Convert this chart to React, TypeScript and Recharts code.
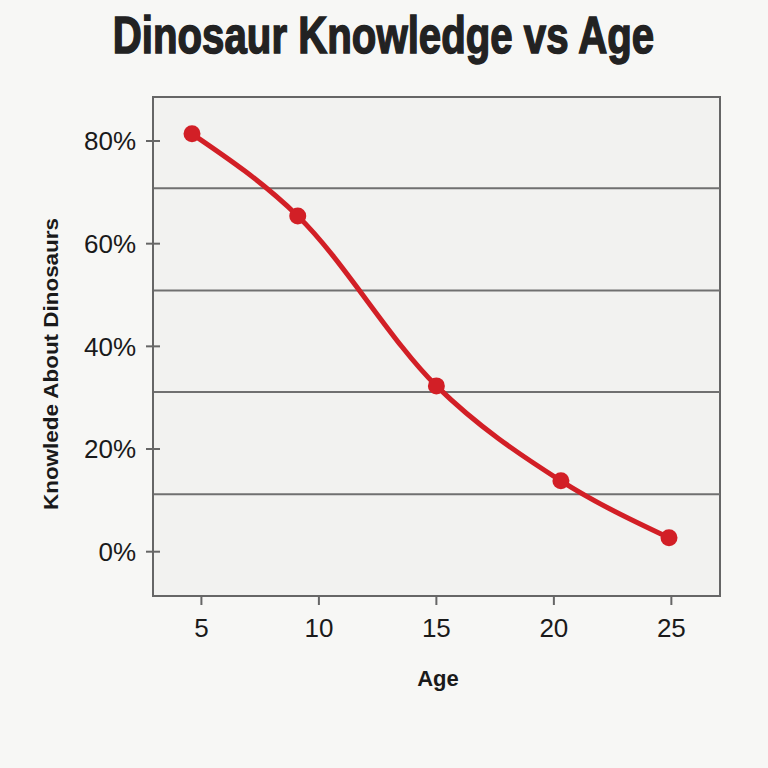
import React from 'react';
import {
  LineChart,
  Line,
  XAxis,
  YAxis,
  CartesianGrid,
  ReferenceLine,
  ReferenceArea,
} from 'recharts';

// values
const ages = [4.6, 9.1, 15, 20.3, 24.9];
const knowledge = [81.4, 65.4, 32.3, 13.8, 2.7];
const ageTicks = [5, 10, 15, 20, 25];
const pctTicks = [0, 20, 40, 60, 80];
const gridLevels = [70.8, 50.9, 31.1, 11.2];

const xDomain = [2.94, 27.07];
const yDomain = [-8.63, 88.57];

const FONT = '"Liberation Sans", Arial, sans-serif';
const RED = '#d21f26';
const FRAME = '#666';

const data = ages.map((age, i) => ({ age, value: knowledge[i] }));

// y tick: the little tick mark crosses the axis line on both sides
const Y_TICK_SIZE = 7;
const Y_TICK_MARGIN = 10;
const YTick = (props: any) => {
  const { x, y, payload } = props;
  const axisX = x + Y_TICK_MARGIN + Y_TICK_SIZE;
  return (
    <g>
      <line x1={axisX - 7} x2={axisX + 7} y1={y} y2={y} stroke={FRAME} strokeWidth={2} />
      <text
        x={x}
        y={y}
        dy="0.355em"
        textAnchor="end"
        fontSize={26}
        fontFamily={FONT}
        fill="#1a1a1a"
      >
        {payload.value}%
      </text>
    </g>
  );
};

export default function App() {
  return (
    <div
      style={{
        position: 'absolute',
        left: 0,
        top: 0,
        width: 768,
        height: 768,
        background: '#f7f7f5',
      }}
    >
      <LineChart
        width={768}
        height={768}
        data={data}
        margin={{ top: 97, right: 48, bottom: 122, left: 63 }}
      >
        <CartesianGrid fill="#f2f2f0" horizontal={false} vertical={false} />
        {gridLevels.map((g) => (
          <ReferenceLine key={g} y={g} stroke="#707070" strokeWidth={2} />
        ))}
        <ReferenceArea
          x1={xDomain[0]}
          x2={xDomain[1]}
          y1={yDomain[0]}
          y2={yDomain[1]}
          fill="none"
          stroke={FRAME}
          strokeWidth={2}
        />
        <XAxis
          dataKey="age"
          type="number"
          domain={xDomain}
          ticks={ageTicks}
          allowDataOverflow
          height={50}
          tickSize={9}
          tickMargin={14}
          axisLine={{ stroke: FRAME, strokeWidth: 2 }}
          tickLine={{ stroke: FRAME, strokeWidth: 2 }}
          tick={{ fontSize: 26, fontFamily: FONT, fill: '#1a1a1a' }}
        />
        <YAxis
          type="number"
          domain={yDomain}
          ticks={pctTicks}
          allowDataOverflow
          width={90}
          tickSize={Y_TICK_SIZE}
          tickMargin={Y_TICK_MARGIN}
          axisLine={{ stroke: FRAME, strokeWidth: 2 }}
          tickLine={false}
          tick={<YTick />}
        />
        <Line
          type="monotone"
          dataKey="value"
          stroke={RED}
          strokeWidth={5}
          dot={{ r: 8.5, fill: RED, stroke: 'none' }}
          activeDot={false}
          isAnimationActive={false}
        />
      </LineChart>
      <svg
        width={768}
        height={768}
        style={{ position: 'absolute', left: 0, top: 0, pointerEvents: 'none' }}
      >
        {/* condensed heavy title: squeeze a bold sans horizontally */}
        <g transform="translate(383.5, 53) scale(0.7735, 1)">
          <text
            x={0}
            y={0}
            textAnchor="middle"
            fontSize={52}
            fontWeight="bold"
            fontFamily={FONT}
            fill="#222"
            stroke="#222"
            strokeWidth={1.5}
          >
            Dinosaur Knowledge vs Age
          </text>
        </g>
        <text
          x={438}
          y={686}
          textAnchor="middle"
          fontSize={22}
          fontWeight="bold"
          fontFamily={FONT}
          fill="#1a1a1a"
        >
          Age
        </text>
        <text
          transform="translate(57.5, 364) rotate(-90)"
          textAnchor="middle"
          fontSize={20}
          fontWeight="bold"
          fontFamily={FONT}
          fill="#1a1a1a"
          textLength={292}
          lengthAdjust="spacingAndGlyphs"
        >
          Knowlede About Dinosaurs
        </text>
      </svg>
    </div>
  );
}
